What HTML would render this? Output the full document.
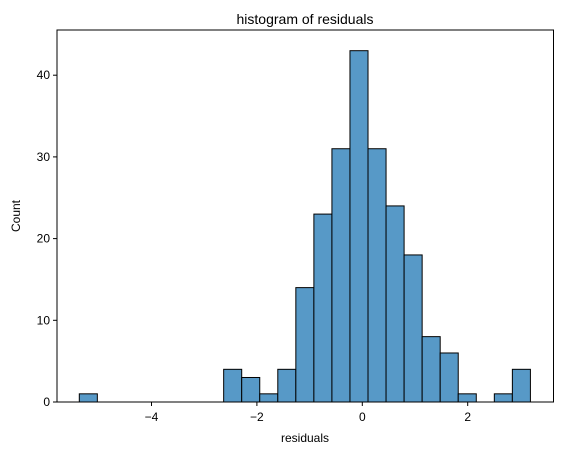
<!DOCTYPE html>
<html><head><meta charset="utf-8"><style>body{margin:0;background:#fff}svg{display:block;font-family:"Liberation Sans","DejaVu Sans",sans-serif}</style></head>
<body>
<svg id="c" width="562" height="455"></svg>
<script>
const counts=[1,0,0,0,0,0,0,0,4,3,1,4,14,23,31,43,31,24,18,8,6,1,0,1,4];
const binStart=-5.37, binEnd=3.19;
const xTicks=[-4,-2,0,2];
const yTicks=[0,10,20,30,40];
const L=57,R=553.5,T=30,B=402;
const x=v=>362.3+v*52.7;
const y=v=>B-v*8.17;
const svg=document.getElementById('c');
const NS='http://www.w3.org/2000/svg';
function mk(t,a,p){const e=document.createElementNS(NS,t);for(const k in a)e.setAttribute(k,a[k]);(p||svg).appendChild(e);return e;}
const w=(binEnd-binStart)/counts.length;
counts.forEach((c,i)=>{if(!c)return;const x0=x(binStart+i*w),x1=x(binStart+(i+1)*w);
const r=mk('rect',{x:x0,y:y(c),width:x1-x0,height:B-y(c),fill:'#5799c7',stroke:'#000','stroke-width':1});

});
const f=mk('rect',{x:L,y:T,width:R-L,height:B-T,fill:'none',stroke:'#000','stroke-width':1});


xTicks.forEach(v=>{mk('line',{x1:x(v),x2:x(v),y1:B,y2:B+4,stroke:'#000'});
const t=mk('text',{x:x(v),y:B+19,'text-anchor':'middle','font-size':12});t.textContent=v<0?'\u2212'+(-v):v;

});
yTicks.forEach(v=>{mk('line',{x1:L-4,x2:L,y1:y(v),y2:y(v),stroke:'#000'});
const t=mk('text',{x:L-7,y:y(v)+4,'text-anchor':'end','font-size':12});t.textContent=v;

});
let t=mk('text',{x:305,y:24,'text-anchor':'middle','font-size':14});t.textContent='histogram of residuals';


t=mk('text',{x:305,y:442,'text-anchor':'middle','font-size':12});t.textContent='residuals';


t=mk('text',{x:20,y:216,'text-anchor':'middle','font-size':12,transform:'rotate(-90 20 216)'});t.textContent='Count';


</script>
</body></html>
